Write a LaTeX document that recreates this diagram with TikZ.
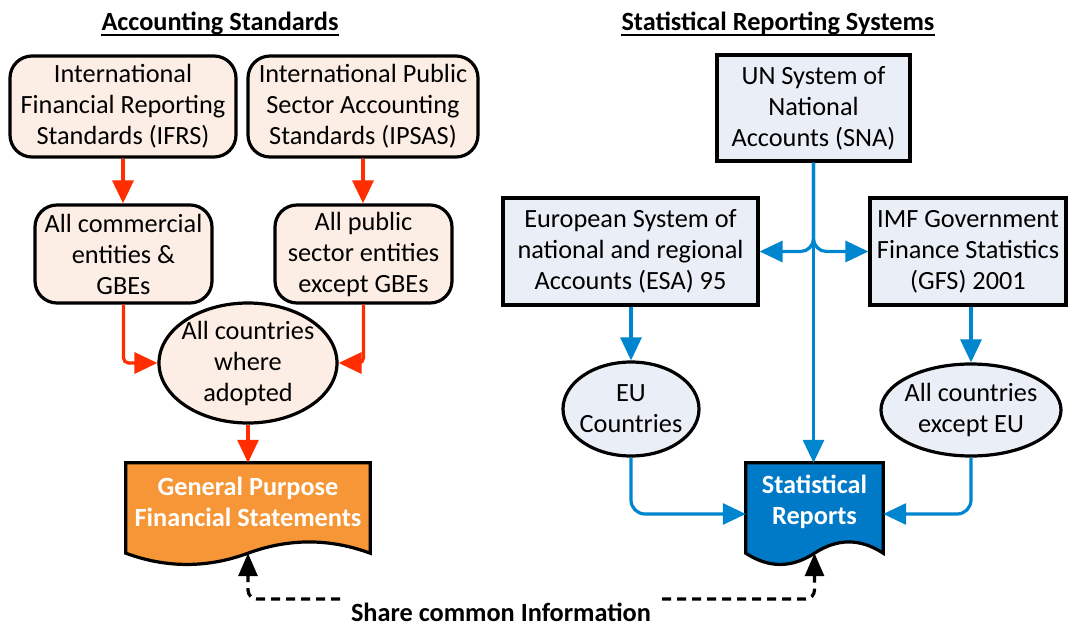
\documentclass[tikz,border=0pt]{standalone}
\usepackage{fontspec}
\setmainfont{Carlito}
\usetikzlibrary{shapes.geometric,arrows.meta,calc}
\definecolor{pinkfill}{RGB}{253,238,229}
\definecolor{bluefill}{RGB}{234,238,246}
\definecolor{redline}{RGB}{255,45,0}
\definecolor{blueline}{RGB}{0,134,206}
\definecolor{srblue}{RGB}{0,122,198}
\definecolor{gporange}{RGB}{247,150,54}
\newcommand\mytxt{\fontsize{26.3}{31}\selectfont}
\tikzset{
 every node/.style={font=\mytxt, align=center, inner sep=0pt},
 pinkbox/.style={draw, line width=3.2pt, fill=pinkfill, rounded corners=22pt},
 bluebox/.style={draw, line width=3.2pt, fill=bluefill},
 pinkell/.style={ellipse, draw, line width=3.2pt, fill=pinkfill},
 blueell/.style={ellipse, draw, line width=3.2pt, fill=bluefill},
 docline/.style={draw, line width=3.2pt},
 doctext/.style={text=white, font=\mytxt\bfseries},
 titletext/.style={anchor=base, font=\mytxt\bfseries},
 ulline/.style={line width=2pt},
 redarr/.style={draw=redline, line width=3.2pt, -{Triangle[length=23pt,width=21pt]}},
 bluearr/.style={draw=blueline, line width=3.2pt, -{Triangle[length=23pt,width=21pt]}},
 sharearr/.style={draw=black, line width=3.2pt, dash pattern=on 9pt off 6pt, -{Triangle[length=23pt,width=19pt]}, rounded corners=9pt},
}
\newcommand\docpath[2]{%
 \draw[docline, fill=#2] (#1.north west) -- (#1.north east) -- (#1.south east)
  .. controls ($(#1.south east)!0.333!(#1.south)+(0,-15)$) and ($(#1.south east)!0.667!(#1.south)+(0,-15)$) .. (#1.south)
  .. controls ($(#1.south)!0.333!(#1.south west)+(0,15)$) and ($(#1.south)!0.667!(#1.south west)+(0,15)$) .. (#1.south west) -- cycle;}
\begin{document}
\begin{tikzpicture}[x=1pt,y=-1pt]
\useasboundingbox (0,0) rectangle (1069,626);
% titles
\node[titletext] (t1) at (220,31) {Accounting Standards};
\node[titletext] (t2) at (778,31) {Statistical Reporting Systems};
\draw[ulline] ($(t1.base west)+(0,4)$) -- ($(t1.base east)+(0,4)$);
\draw[ulline] ($(t2.base west)+(0,4)$) -- ($(t2.base east)+(0,4)$);
% left side
\node[pinkbox, minimum width=226pt, minimum height=101pt] (ifrs) at (123,106.5) {International\\Financial Reporting\\Standards (IFRS)};
\node[pinkbox, minimum width=230pt, minimum height=101pt] (ipsas) at (363,106.5) {International Public\\Sector Accounting\\Standards (IPSAS)};
\node[pinkbox, minimum width=177pt, minimum height=98pt] (comm) at (123.5,254) {All commercial\\entities \&\\GBEs};
\node[pinkbox, minimum width=177pt, minimum height=98pt] (pub) at (363.5,254) {All public\\sector entities\\except GBEs};
\node[pinkell, minimum width=178pt, minimum height=120pt] (adopt) at (248,363) {};
\node (adoptt) at (adopt) {All countries\\where\\adopted};
\node[minimum width=244pt, minimum height=90pt] (gpfs) at (248,508) {};
\docpath{gpfs}{gporange}
\node[doctext] (gpfst) at (248,502) {General Purpose\\Financial Statements};
% right side
\node[bluebox, minimum width=193pt, minimum height=106pt] (sna) at (813.5,108) {UN System of\\National\\Accounts (SNA)};
\node[bluebox, minimum width=255pt, minimum height=107pt] (esa) at (630.5,251.5) {European System of\\national and regional\\Accounts (ESA) 95};
\node[bluebox, minimum width=196pt, minimum height=107pt] (gfs) at (968,251.5) {IMF Government\\Finance Statistics\\(GFS) 2001};
\node[blueell, minimum width=136pt, minimum height=94pt] (eu) at (631,409) {};
\node (eut) at (eu) {EU\\Countries};
\node[blueell, minimum width=180pt, minimum height=92pt] (exeu) at (971,410) {};
\node (exeut) at (exeu) {All countries\\except EU};
\node[minimum width=137pt, minimum height=90pt] (sr) at (814.5,508) {};
\docpath{sr}{srblue}
\node[doctext] (srt) at (814.5,502) {Statistical\\Reports};
% share label
\node[font=\mytxt\bfseries] (share) at (501,612) {Share common Information};
\coordinate (shl) at (340,599);
\coordinate (shr) at (662,599);
% red connectors
\draw[redarr] (ifrs.south) -- (ifrs.south |- comm.north);
\draw[redarr] (ipsas.south) -- (ipsas.south |- pub.north);
\draw[redarr, rounded corners=5pt] (comm.south) |- (adopt.west);
\draw[redarr, rounded corners=5pt] (pub.south) |- (adopt.east);
\draw[redarr] (adopt.south) -- (adopt.south |- gpfs.north);
% blue connectors
\draw[bluearr] (sna.south) -- (sna.south |- sr.north);
\draw[bluearr, rounded corners=13pt] (sna.south) |- (esa.east);
\draw[bluearr, rounded corners=13pt] (sna.south) |- (gfs.west);
\draw[bluearr] (eu.north |- esa.south) -- (eu.north);
\draw[bluearr] (exeu.north |- gfs.south) -- (exeu.north);
\draw[bluearr, rounded corners=14pt] (eu.south) |- ($(sr.west)+(0,6)$);
\draw[bluearr, rounded corners=14pt] (exeu.south) |- ($(sr.east)+(0,6)$);
% share connectors
\draw[sharearr] (shl) -| (gpfs.south);
\draw[sharearr] (shr) -| (sr.south);
\end{tikzpicture}
\end{document}
